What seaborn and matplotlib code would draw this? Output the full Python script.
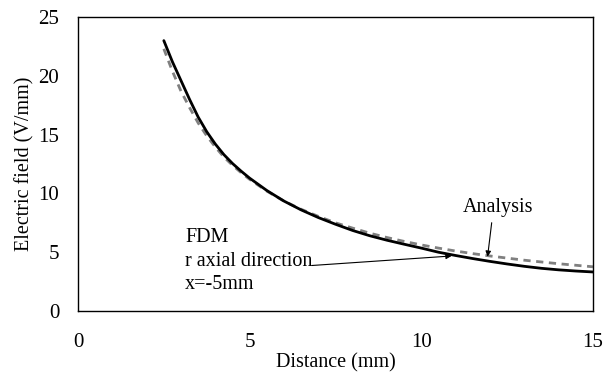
import numpy as np
import pandas as pd
import matplotlib
matplotlib.use("Agg")
import matplotlib.pyplot as plt
import seaborn as sns

# Data
distance = [2.5, 2.75, 3, 3.25, 3.5, 3.75, 4, 4.25, 4.5, 4.75, 5, 5.5, 6, 6.5, 7, 7.5, 8, 8.5,
            9, 9.5, 10, 10.5, 11, 11.5, 12, 12.5, 13, 13.5, 14, 14.5, 15]
fdm_field = [23.0, 21.2, 19.6, 18.0, 16.5, 15.25, 14.2, 13.3, 12.55, 11.9, 11.3, 10.25, 9.35, 8.6,
             7.95, 7.38, 6.85, 6.4, 6.02, 5.68, 5.35, 5.0, 4.72, 4.46, 4.22, 4.0,
             3.8, 3.63, 3.5, 3.4, 3.32]
analysis_field = [22.3, 20.4, 18.7, 17.3, 16.0, 14.9, 13.95, 13.1, 12.4, 11.77, 11.2, 10.2, 9.35, 8.65,
                  8.05, 7.5, 7.05, 6.62, 6.25, 5.92, 5.62, 5.35, 5.1, 4.88, 4.68, 4.5,
                  4.32, 4.17, 4.02, 3.89, 3.76]
x_ticks = [0, 5, 10, 15]
y_ticks = [0, 5, 10, 15, 20, 25]

sns.set_theme(style="white")
plt.rcParams['font.family'] = ['Liberation Serif', 'DejaVu Serif']
plt.rcParams['text.color'] = 'black'
plt.rcParams['axes.labelcolor'] = 'black'

df = pd.DataFrame({
    "Distance": distance * 2,
    "Field": fdm_field + analysis_field,
    "Series": ["FDM"] * len(distance) + ["Analysis"] * len(distance),
})

fig = plt.figure(figsize=(6.06, 3.72), dpi=100)
ax = fig.add_axes([0.1287, 0.164, 0.8498, 0.790])

sns.lineplot(data=df[df.Series == "Analysis"], x="Distance", y="Field", ax=ax,
             color="#808080", linewidth=2.0, linestyle=(0, (2.6, 2.0)), legend=False)
sns.lineplot(data=df[df.Series == "FDM"], x="Distance", y="Field", ax=ax,
             color="black", linewidth=2.0, legend=False)

ax.set_xlim(0, 15)
ax.set_ylim(0, 25)
ax.set_xticks(x_ticks)
ax.set_yticks(y_ticks)
ax.set_xticklabels([str(t) for t in x_ticks], fontsize=15)
ax.set_yticklabels([str(t) for t in y_ticks], fontsize=15)
ax.tick_params(axis="x", direction="in", length=5, width=0.8, pad=15.5, colors="black")
ax.tick_params(axis="y", direction="in", length=0, pad=13.5, colors="black")
ax.set_xlabel("Distance (mm)", fontsize=14.5, labelpad=1.5)
ax.set_ylabel("Electric field (V/mm)", fontsize=14.5, labelpad=3)

for s in ax.spines.values():
    s.set_color("black")
    s.set_linewidth(1.0)

ax.text(11.21, 8.38, "Analysis", fontsize=14.5, ha="left", va="baseline")
ax.annotate("", xy=(11.93, 4.62), xytext=(12.05, 7.51),
            arrowprops=dict(arrowstyle="-|>", color="black", lw=0.8,
                            shrinkA=0, shrinkB=0, mutation_scale=8))
ax.text(3.117, 5.83, "FDM", fontsize=14.5, ha="left", va="baseline")
ax.text(3.117, 3.83, "r axial direction", fontsize=14.5, ha="left", va="baseline")
ax.text(3.117, 1.91, "x=-5mm", fontsize=14.5, ha="left", va="baseline")
ax.annotate("", xy=(10.88, 4.68), xytext=(6.81, 3.87),
            arrowprops=dict(arrowstyle="-|>", color="black", lw=0.8,
                            shrinkA=0, shrinkB=0, mutation_scale=8))

fig.savefig("out.png", dpi=100)
